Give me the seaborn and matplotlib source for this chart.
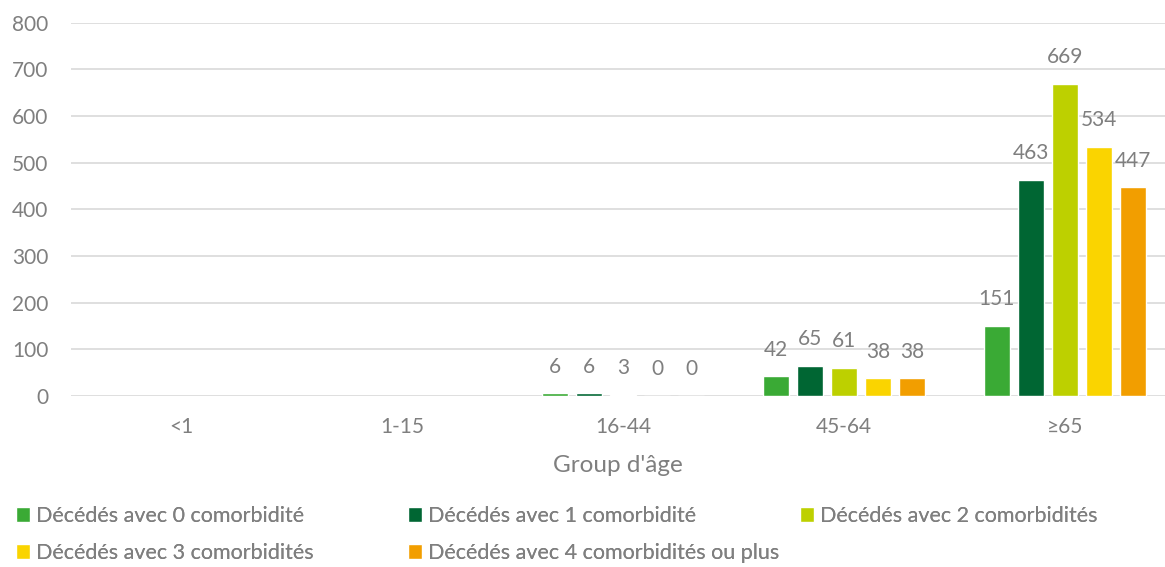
import numpy as np
import pandas as pd
import matplotlib
matplotlib.use("Agg")
import matplotlib.pyplot as plt
import seaborn as sns

# ---- Data -------------------------------------------------------------------
age_groups = ["<1", "1-15", "16-44", "45-64", "≥65"]
series_names = [
    "Décédés avec 0 comorbidité",
    "Décédés avec 1 comorbidité",
    "Décédés avec 2 comorbidités",
    "Décédés avec 3 comorbidités",
    "Décédés avec 4 comorbidités ou plus",
]
comorb_0 = [np.nan, np.nan, 6, 42, 151]
comorb_1 = [np.nan, np.nan, 6, 65, 463]
comorb_2 = [np.nan, np.nan, 3, 61, 669]
comorb_3 = [np.nan, np.nan, 0, 38, 534]
comorb_4 = [np.nan, np.nan, 0, 38, 447]
colors = ["#3AAA35", "#006633", "#BDD000", "#FAD400", "#F29E00"]

# ---- Styling ----------------------------------------------------------------
sns.set_theme(style="white")
plt.rcParams["font.family"] = ["Lato", "DejaVu Sans"]
GREY = "#7F7F7F"
W, H = 1165, 567

rows = []
for name, vals in zip(series_names, [comorb_0, comorb_1, comorb_2, comorb_3, comorb_4]):
    for grp, v in zip(age_groups, vals):
        rows.append({"age": grp, "serie": name, "deces": v})
df = pd.DataFrame(rows).dropna()

fig = plt.figure(figsize=(W / 100, H / 100), dpi=100)
ax = fig.add_axes([70.5 / W, (H - 396) / H, (W - 70.5) / W, 373.3 / H])

sns.barplot(data=df, x="age", y="deces", hue="serie", order=age_groups,
            hue_order=series_names, palette=colors, width=0.77, gap=0.22,
            saturation=1, ax=ax, legend=True)

for cont in ax.containers:
    ax.bar_label(cont, labels=[f"{int(b.get_height())}" for b in cont],
                 padding=12, fontsize=15, color=GREY)

ax.set_ylim(0, 800)
ax.set_yticks(range(0, 801, 100))
ax.set_xlim(-0.5, 4.4525)
ax.yaxis.grid(True, color="#D9D9D9", linewidth=1.2)
ax.set_axisbelow(True)
for s in ax.spines.values():
    s.set_visible(False)
ax.tick_params(axis="both", length=0, labelsize=15, labelcolor=GREY)
ax.tick_params(axis="x", pad=15)
ax.tick_params(axis="y", pad=16)
ax.set_xlabel("Group d'âge", fontsize=17.5, color=GREY, labelpad=13)
ax.set_ylabel("")

handles, labels = ax.get_legend_handles_labels()
ax.legend_.remove()

# legend laid out as in the original: row 1 = 0/1/2, row 2 = 3/4
leg_kw = dict(frameon=False, fontsize=15.5, labelcolor=GREY,
              handlelength=0.65, handleheight=0.65, handletextpad=0.28,
              borderaxespad=0, borderpad=0, labelspacing=0.78)
columns = [([0, 3], 16), ([1, 4], 408), ([2], 800)]
for idx, x0 in columns:
    yc = (H - 534.5) / H if len(idx) == 2 else (H - 516) / H
    leg = fig.legend([handles[i] for i in idx], [labels[i] for i in idx],
                     loc="center left", bbox_to_anchor=(x0 / W, yc), **leg_kw)
    fig.add_artist(leg)

fig.savefig("out.png", dpi=100, facecolor="white")
